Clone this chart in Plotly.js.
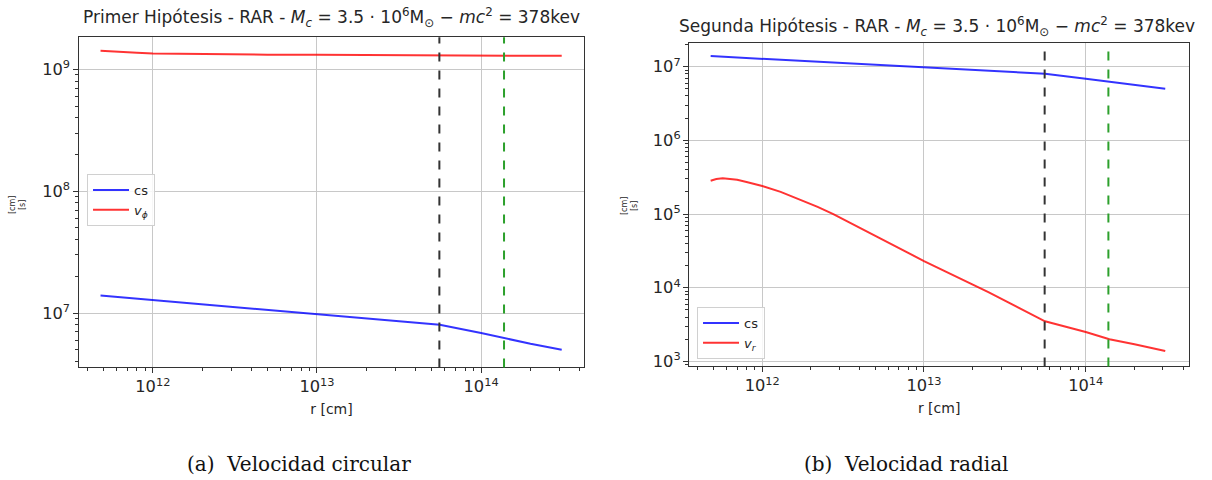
<!DOCTYPE html>
<html>
<head>
<meta charset="utf-8">
<script src="https://cdn.plot.ly/plotly-3.0.1.min.js"></script>
<style>html,body{margin:0;padding:0;background:#fff;}#chart{width:1212px;height:480px;}</style>
</head>
<body>
<div id="chart"></div>
<script>
// radius [cm]
const r = [4.8e11, 5.2e11, 5.7e11, 6.3e11, 7e11, 8e11, 1e12, 1.3e12, 1.7e12, 2.2e12, 2.75e12, 5e12, 1e13, 2.5e13, 5.6e13, 1e14, 1.4e14, 2e14, 3.1e14];
// sound speed cs [cm/s]
const cs = [1.39e7, 1.377e7, 1.362e7, 1.346e7, 1.33e7, 1.309e7, 1.276e7, 1.238e7, 1.2e7, 1.164e7, 1.135e7, 1.06e7, 9.8e6, 8.8e6, 8.0e6, 6.85e6, 6.2e6, 5.6e6, 5.0e6];
// circular velocity v_phi [cm/s]
const vPhi = [1.42e9, 1.415e9, 1.405e9, 1.395e9, 1.385e9, 1.37e9, 1.35e9, 1.343e9, 1.338e9, 1.334e9, 1.33e9, 1.32e9, 1.315e9, 1.31e9, 1.30e9, 1.295e9, 1.293e9, 1.29e9, 1.29e9];
// radial velocity v_r [cm/s]
const vR = [2.83e5, 2.99e5, 3.05e5, 3.02e5, 2.92e5, 2.72e5, 2.4e5, 2.0e5, 1.58e5, 1.25e5, 1.0e5, 5.1e4, 2.3e4, 8.7e3, 3.5e3, 2.5e3, 2.0e3, 1.71e3, 1.38e3];
// vertical reference radii [cm]
const rBlack = 5.57e13;
const rGreen = 1.38e14;

const titles = [
  "Primer Hipótesis - RAR - <i>M<sub>c</sub></i> = 3.5 · 10<sup>6</sup>M<sub>⊙</sub> − <i>mc</i><sup>2</sup> = 378kev",
  "Segunda Hipótesis - RAR - <i>M<sub>c</sub></i> = 3.5 · 10<sup>6</sup>M<sub>⊙</sub> − <i>mc</i><sup>2</sup> = 378kev"
];
const captions = ["(a)  Velocidad circular", "(b)  Velocidad radial"];

const font = "DejaVu Sans, sans-serif";
const BLUE = "rgba(0,0,255,0.8)", RED = "rgba(255,0,0,0.8)";

const traces = [
  {x: r, y: cs, xaxis: "x", yaxis: "y", mode: "lines", name: "cs", line: {color: BLUE, width: 2}, legend: "legend"},
  {x: r, y: vPhi, xaxis: "x", yaxis: "y", mode: "lines", name: "<i>v<sub>ϕ</sub></i>", line: {color: RED, width: 2}, legend: "legend"},
  {x: r, y: cs, xaxis: "x2", yaxis: "y2", mode: "lines", name: "cs", line: {color: BLUE, width: 2}, legend: "legend2"},
  {x: r, y: vR, xaxis: "x2", yaxis: "y2", mode: "lines", name: "<i>v<sub>r</sub></i>", line: {color: RED, width: 2}, legend: "legend2"}
];

function xax(dom, rng) {
  return {
    type: "log", domain: dom, range: rng, dtick: 1, exponentformat: "power",
    showgrid: true, gridcolor: "#c8c8c8", gridwidth: 1,
    showline: true, linecolor: "#333", linewidth: 1, mirror: true,
    ticks: "outside", ticklen: 5, tickcolor: "#333",
    minor: {ticks: "outside", ticklen: 3, tickcolor: "#333", showgrid: false},
    tickfont: {family: font, size: 13, color: "#262626"},
    title: {text: "r [cm]", font: {family: font, size: 14, color: "#262626"}, standoff: 8},
    zeroline: false
  };
}
function yax(dom, rng, anchor) {
  return {
    type: "log", domain: dom, range: rng, dtick: 1, exponentformat: "power", anchor: anchor,
    showgrid: true, gridcolor: "#c8c8c8", gridwidth: 1,
    showline: true, linecolor: "#333", linewidth: 1, mirror: true,
    ticks: "outside", ticklen: 5, tickcolor: "#333",
    minor: {ticks: "outside", ticklen: 3, tickcolor: "#333", showgrid: false},
    tickfont: {family: font, size: 13, color: "#262626"},
    zeroline: false
  };
}

const dL = [0.0649, 0.4821], dR = [0.5687, 0.9810];
const legFont = {family: font, size: 13, color: "#262626"};
const layout = {
  width: 1212, height: 480,
  margin: {l: 0, r: 0, t: 0, b: 0},
  paper_bgcolor: "#fff", plot_bgcolor: "#fff",
  showlegend: true,
  xaxis: Object.assign(xax(dL, [11.548, 14.629]), {anchor: "y"}),
  yaxis: yax([0.2344, 0.9223], [6.553, 9.263], "x"),
  xaxis2: Object.assign(xax(dR, [11.549, 14.638]), {anchor: "y2"}),
  yaxis2: yax([0.2365, 0.9098], [2.931, 7.317], "x2"),
  legend: {x: 0.0718, y: 0.6375, xanchor: "left", yanchor: "top", bgcolor: "rgba(255,255,255,0.85)",
           bordercolor: "#d0d0d0", borderwidth: 1, font: legFont, tracegroupgap: 4, itemwidth: 36},
  legend2: {x: 0.5751, y: 0.3604, xanchor: "left", yanchor: "top", bgcolor: "rgba(255,255,255,0.85)",
           bordercolor: "#d0d0d0", borderwidth: 1, font: legFont, tracegroupgap: 4, itemwidth: 36},
  shapes: [
    {type: "line", xref: "x", yref: "y domain", x0: rBlack, x1: rBlack, y0: 0, y1: 1, line: {color: "#333", width: 2, dash: "dash"}},
    {type: "line", xref: "x", yref: "y domain", x0: rGreen, x1: rGreen, y0: 0, y1: 1, line: {color: "#2ca02c", width: 2, dash: "dash"}},
    {type: "line", xref: "x2", yref: "y2 domain", x0: rBlack, x1: rBlack, y0: 0, y1: 1, line: {color: "#333", width: 2, dash: "dash"}},
    {type: "line", xref: "x2", yref: "y2 domain", x0: rGreen, x1: rGreen, y0: 0, y1: 1, line: {color: "#2ca02c", width: 2, dash: "dash"}}
  ],
  annotations: [
    {text: titles[0], xref: "paper", yref: "paper", x: 331/1212, y: 1 - 18/480, xanchor: "center", yanchor: "middle", showarrow: false,
     font: {family: font, size: 17, color: "#262626"}},
    {text: titles[1], xref: "paper", yref: "paper", x: 937/1212, y: 1 - 26/480, xanchor: "center", yanchor: "middle", showarrow: false,
     font: {family: font, size: 17, color: "#262626"}},
    {text: captions[0], xref: "paper", yref: "paper", x: 299/1212, y: 1 - 464/480, xanchor: "center", yanchor: "middle", showarrow: false,
     font: {family: "DejaVu Serif, serif", size: 20, color: "#111"}},
    {text: captions[1], xref: "paper", yref: "paper", x: 906/1212, y: 1 - 464/480, xanchor: "center", yanchor: "middle", showarrow: false,
     font: {family: "DejaVu Serif, serif", size: 20, color: "#111"}},
    {text: "[cm]<br>[s]", xref: "paper", yref: "paper", x: 18/1212, y: 1 - 205/480, xanchor: "center", yanchor: "middle", showarrow: false,
     textangle: -90, font: {family: font, size: 8, color: "#262626"}},
    {text: "[cm]<br>[s]", xref: "paper", yref: "paper", x: 629/1212, y: 1 - 206/480, xanchor: "center", yanchor: "middle", showarrow: false,
     textangle: -90, font: {family: font, size: 8, color: "#262626"}}
  ]
};

Plotly.newPlot("chart", traces, layout, {displayModeBar: false, staticPlot: true});
</script>
</body>
</html>
